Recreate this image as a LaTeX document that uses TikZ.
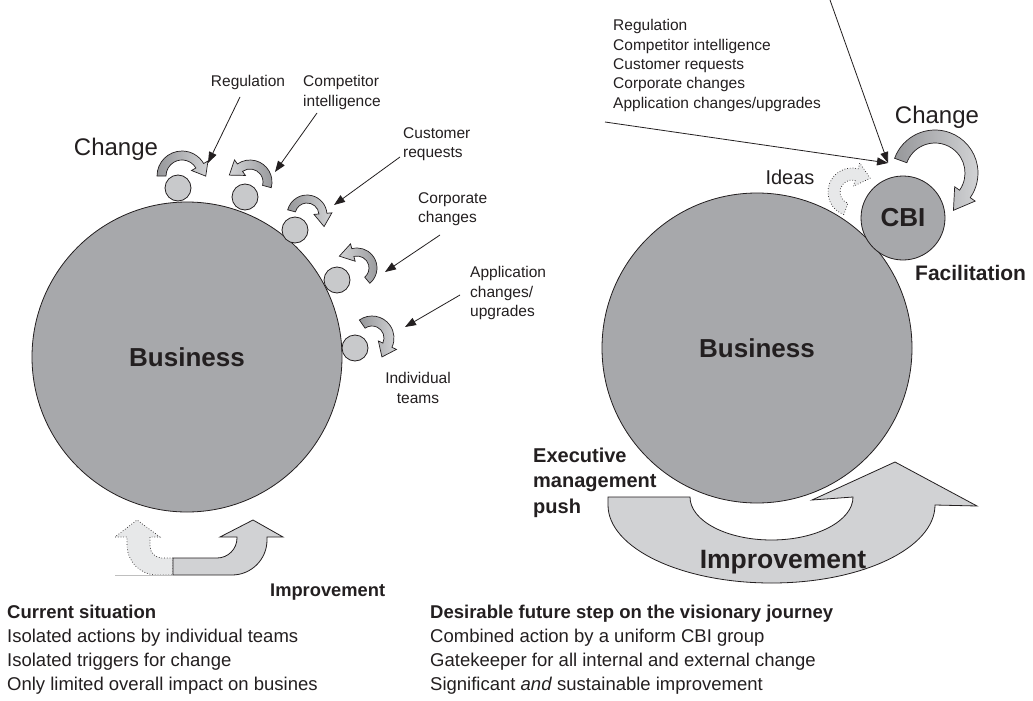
\documentclass[tikz,border=0pt]{standalone}
\usepackage{fontspec}
\setmainfont{Liberation Sans}
\usetikzlibrary{arrows.meta,calc}
\definecolor{bizgray}{RGB}{167,168,171}
\definecolor{smallgray}{RGB}{200,201,203}
\definecolor{arrdark}{RGB}{150,151,154}
\definecolor{arrlight}{RGB}{210,211,213}
\definecolor{impgray}{RGB}{209,210,212}
\definecolor{dotgray}{RGB}{231,232,233}
\definecolor{ink}{RGB}{35,31,32}
% curved block arrow: cx cy ri ro a0 a1 w L style
\newcommand{\carrow}[9]{%
  \pgfmathsetmacro\cAm{(#3+#4)/2}%
  \draw[#9] ({#1+#4*cos(#5)},{#2+#4*sin(#5)}) arc[start angle=#5,end angle=#6,radius=#4]
    -- ({#1+(#4+#7)*cos(#6)},{#2+(#4+#7)*sin(#6)})
    -- ({#1+\cAm*cos(#6)-(#8)*sin(#6)},{#2+\cAm*sin(#6)+(#8)*cos(#6)})
    -- ({#1+(#3-#7)*cos(#6)},{#2+(#3-#7)*sin(#6)})
    -- ({#1+#3*cos(#6)},{#2+#3*sin(#6)})
    arc[start angle=#6,end angle=#5,radius=#3] -- cycle;}
\begin{document}
\begin{tikzpicture}[x=1pt,y=1pt,yscale=-1,
  bigc/.style={circle,draw=ink,line width=0.8pt,fill=bizgray,minimum size=310pt,inner sep=0pt,
     font=\fontsize{26}{30}\selectfont\bfseries,text=ink},
  smallc/.style={circle,draw=ink,line width=0.8pt,fill=smallgray,minimum size=26pt,inner sep=0pt},
  cbic/.style={circle,draw=ink,line width=0.8pt,fill=bizgray,minimum size=84pt,inner sep=0pt,
     font=\fontsize{26}{30}\selectfont\bfseries,text=ink},
  chgR/.style={draw=ink,line width=0.7pt,left color=arrdark,right color=arrlight},
  chgL/.style={draw=ink,line width=0.7pt,left color=arrlight,right color=arrdark},
  dotarr/.style={draw=ink,line width=0.7pt,dotted,fill=dotgray},
  imparr/.style={draw=ink,line width=0.8pt,fill=impgray},
  thinarr/.style={draw=ink,line width=0.8pt,-{Triangle[length=11pt,width=8pt]}},
  lbl/.style={font=\fontsize{15.5}{19.3}\selectfont,text=ink,inner sep=0pt,align=left},
  captxt/.style={font=\fontsize{18.5}{23.7}\selectfont,text=ink,inner sep=0pt,align=left,anchor=north west}]
\fill[white] (0,0) rectangle (1033,701);
\useasboundingbox (0,0) rectangle (1033,701);

% ---------------- left diagram ----------------
\node[bigc] (bizL) at (187,357) {Business};
\node[smallc] (s1) at (178,188) {};
\node[smallc] (s2) at (245,197) {};
\node[smallc] (s3) at (295,230) {};
\node[smallc] (s4) at (337,280) {};
\node[smallc] (s5) at (355,348) {};

\carrow{182}{176}{16}{25}{180}{330}{5}{12}{chgR}
\carrow{250}{182}{13}{22}{15}{-125}{5}{-13}{chgL}
\carrow{307}{215}{12}{20}{195}{355}{5}{13}{chgR}
\carrow{357}{268}{12}{20}{50}{-105}{5}{-14}{chgL}
\carrow{372}{338}{12}{22}{235}{385}{5}{13}{chgR}

\node[font=\fontsize{24}{28}\selectfont,text=ink,inner sep=0pt,anchor=north] (chL) at (116,138.4) {Change};

\node[lbl,anchor=north] (regL) at (248,75.4) {Regulation};
\node[lbl,anchor=north west] (compL) at (303,75.4) {Competitor\\intelligence};
\node[lbl,anchor=north west] (custL) at (403,127.4) {Customer\\requests};
\node[lbl,anchor=north west] (corpL) at (418,192.4) {Corporate\\changes};
\node[lbl,anchor=north west] (appL) at (470,266.4) {Application\\changes/\\upgrades};
\node[lbl,anchor=north,align=center] (indL) at (418,372.4) {Individual\\teams};

\coordinate (r0) at (240,97);  \coordinate (r1) at (208,163);
\coordinate (c0) at (317,113); \coordinate (c1) at (275,172);
\coordinate (u0) at (400,157); \coordinate (u1) at (334,205);
\coordinate (o0) at (440,235); \coordinate (o1) at (385,272);
\coordinate (p0) at (460,295); \coordinate (p1) at (405,327);
\draw[thinarr] (r0) -- (r1);
\draw[thinarr] (c0) -- (c1);
\draw[thinarr] (u0) -- (u1);
\draw[thinarr] (o0) -- (o1);
\draw[thinarr] (p0) -- (p1);

% left improvement arrows
\draw[dotarr] (173,558) -- (162,558) arc[start angle=90,end angle=180,radius=12]
  -- (150,537) -- (160,537) -- (137,520) -- (115,537) -- (127,537) -- (127,545)
  arc[start angle=180,end angle=90,radius=30] -- (173,575) -- cycle;
\draw[imparr] (173,558) -- (217,558) arc[start angle=90,end angle=0,radius=20]
  -- (237,537) -- (220,537) -- (253,520) -- (283,537) -- (267,537) -- (267,540)
  arc[start angle=0,end angle=90,radius=35] -- (173,575) -- cycle;
\draw[black!25,line width=0.5pt] (115,575) -- (173,575);
\node[font=\fontsize{18.3}{22}\selectfont\bfseries,text=ink,inner sep=0pt,anchor=north west] (impL) at (270,583.4) {Improvement};

% ---------------- right diagram ----------------
\node[bigc] (bizR) at (757,348) {Business};
\node[cbic] (cbi) at (903,218) {CBI};
\carrow{852}{192}{12}{24}{110}{285}{6}{14}{dotarr}
\carrow{935}{173}{30}{43}{200}{395}{6}{20}{chgR}

\node[font=\fontsize{24}{28}\selectfont,text=ink,inner sep=0pt,anchor=north] (chR) at (937,106.4) {Change};
\node[font=\fontsize{20}{24}\selectfont,text=ink,inner sep=0pt,anchor=north] (ideas) at (790,169.8) {Ideas};
\node[font=\fontsize{21}{25}\selectfont\bfseries,text=ink,inner sep=0pt,anchor=north west] (facil) at (915,265.4) {Facilitation};

\node[lbl,anchor=north west] (listR) at (613,19.4) {Regulation\\Competitor intelligence\\Customer requests\\Corporate changes\\Application changes/upgrades};

\coordinate (t0) at (830,0);
\coordinate (t1) at (605,122);
\coordinate (tc) at (888,163);
\draw[thinarr] (t0) -- (tc);
\draw[thinarr] (t1) -- (tc);

\draw[imparr] (608,497) -- (690,497) arc[start angle=180,end angle=0,x radius=81.5,y radius=43]
  -- (812,500) -- (895,462) -- (977,506) -- (935,505)
  arc[start angle=0,end angle=180,x radius=163.5,y radius=78] -- cycle;
\node[font=\fontsize{26.5}{30}\selectfont\bfseries,text=ink,inner sep=0pt,anchor=north] (impR) at (783,550.5) {Improvement};
\node[font=\fontsize{20}{25.5}\selectfont\bfseries,text=ink,inner sep=0pt,anchor=north west,align=left] (exec) at (533,447.8) {Executive\\management\\push};

% ---------------- captions ----------------
\node[captxt] (capL) at (7,605.3) {\textbf{Current situation}\\Isolated actions by individual teams\\Isolated triggers for change\\Only limited overall impact on busines};
\node[captxt] (capR) at (430,605.3) {\textbf{Desirable future step on the visionary journey}\\Combined action by a uniform CBI group\\Gatekeeper for all internal and external change\\Significant \textit{and} sustainable improvement};
\end{tikzpicture}
\end{document}
